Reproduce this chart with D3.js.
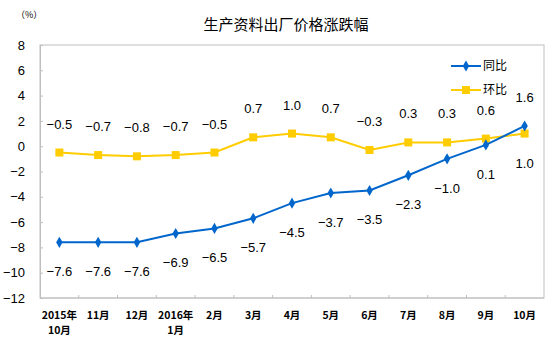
<!DOCTYPE html>
<html>
<head>
<meta charset="utf-8">
<script src="https://cdn.jsdelivr.net/npm/d3@7"></script>
<style>
  body { margin: 0; background: #fff; }
  svg { display: block; }
</style>
</head>
<body>
<div id="chart"></div>
<script>
// categories (month labels, two lines where needed)
const months = [
  ["2015年", "10月"], ["11月"], ["12月"], ["2016年", "1月"], ["2月"], ["3月"],
  ["4月"], ["5月"], ["6月"], ["7月"], ["8月"], ["9月"], ["10月"]
];
// year-on-year
const yoy = [-7.6, -7.6, -7.6, -6.9, -6.5, -5.7, -4.5, -3.7, -3.5, -2.3, -1.0, 0.1, 1.6];
// month-on-month
const mom = [-0.5, -0.7, -0.8, -0.7, -0.5, 0.7, 1.0, 0.7, -0.3, 0.3, 0.3, 0.6, 1.0];
const yTicks = [8, 6, 4, 2, 0, -2, -4, -6, -8, -10, -12];

const width = 554, height = 346;
const margin = {top: 45, right: 10, bottom: 48, left: 40};

const svg = d3.select("#chart").append("svg")
  .attr("width", width)
  .attr("height", height);

const x = d3.scaleBand()
  .domain(d3.range(months.length))
  .range([margin.left, width - margin.right]);

const y = d3.scaleLinear()
  .domain([-12, 8])
  .range([height - margin.bottom, margin.top]);

const axisColor = "#bfbfbf";
const numFont = "'Liberation Sans', Arial, sans-serif";
const cjkFont = "'Noto Sans CJK SC', sans-serif";

// title
svg.append("text")
  .attr("x", 286).attr("y", 30)
  .attr("text-anchor", "middle")
  .style("font-family", cjkFont)
  .style("font-size", "15px")
  .text("生产资料出厂价格涨跌幅");

svg.append("text")
  .attr("x", 16).attr("y", 18)
  .style("font-family", cjkFont)
  .style("font-size", "9px")
  .text("（%）");

// plot box (top and right borders)
svg.append("rect")
  .attr("x", margin.left).attr("y", margin.top)
  .attr("width", width - margin.left - margin.right)
  .attr("height", height - margin.top - margin.bottom)
  .attr("fill", "none")
  .attr("stroke", axisColor);

// y axis
const yAxis = svg.append("g")
  .attr("transform", `translate(${margin.left},0)`)
  .call(d3.axisLeft(y).tickValues(yTicks).tickSize(-3).tickPadding(15).tickFormat(d3.format("d")));
yAxis.select(".domain").attr("stroke", axisColor);
yAxis.selectAll(".tick line").attr("stroke", axisColor);
yAxis.selectAll("text")
  .style("font-family", numFont)
  .style("font-size", "13px")
  .attr("fill", "#000");

// x axis: ticks between categories
const xAxis = svg.append("g")
  .attr("transform", `translate(0,${height - margin.bottom})`);
xAxis.append("line")
  .attr("x1", margin.left).attr("x2", width - margin.right)
  .attr("stroke", axisColor);
xAxis.selectAll(".xt")
  .data(d3.range(1, months.length))
  .join("line")
  .attr("x1", d => x(d)).attr("x2", d => x(d))
  .attr("y1", 0).attr("y2", -3)
  .attr("stroke", axisColor);
// one text element per line so lines never share a box
months.forEach((lines, i) => {
  lines.forEach((t, j) => {
    xAxis.append("text")
      .attr("x", x(i) + x.bandwidth() / 2)
      .attr("y", 21 + j * 15)
      .attr("text-anchor", "middle")
      .style("font-family", cjkFont)
      .style("font-size", "10.5px")
      .style("font-weight", "bold")
      .text(t);
  });
});

const cx = i => x(i) + x.bandwidth() / 2;
const line = d3.line().x((d, i) => cx(i)).y(d => y(d));

const blue = "#0066cc", yellow = "#ffcc00";

// month-on-month line
svg.append("path")
  .datum(mom)
  .attr("d", line)
  .attr("fill", "none")
  .attr("stroke", yellow)
  .attr("stroke-width", 2);
svg.selectAll(".sq")
  .data(mom)
  .join("rect")
  .attr("x", (d, i) => cx(i) - 4)
  .attr("y", d => y(d) - 4)
  .attr("width", 8).attr("height", 8)
  .attr("fill", yellow);

// year-on-year line
svg.append("path")
  .datum(yoy)
  .attr("d", line)
  .attr("fill", "none")
  .attr("stroke", blue)
  .attr("stroke-width", 2);
svg.selectAll(".dm")
  .data(yoy)
  .join("path")
  .attr("d", d3.symbol(d3.symbolDiamond, 36))
  .attr("transform", (d, i) => `translate(${cx(i)},${y(d)})`)
  .attr("fill", blue);

// data labels: higher series above, lower below
function labels(series, other) {
  svg.append("g").selectAll("text")
    .data(series)
    .join("text")
    .attr("x", (d, i) => cx(i))
    .attr("y", (d, i) => d >= other[i] ? y(d) - 24 : y(d) + 34)
    .attr("text-anchor", "middle")
    .style("font-family", numFont)
    .style("font-size", "13px")
    .text(d => d3.format(".1f")(d));
}
labels(mom, yoy);
labels(yoy, mom);

// legend
const legend = [
  {name: "同比", color: blue, y: 66, shape: "diamond"},
  {name: "环比", color: yellow, y: 90, shape: "square"}
];
const lg = svg.append("g").selectAll("g")
  .data(legend)
  .join("g")
  .attr("transform", d => `translate(451,${d.y})`);
lg.append("line")
  .attr("x1", 0).attr("x2", 30)
  .attr("stroke", d => d.color)
  .attr("stroke-width", 2);
lg.append("path")
  .attr("d", d => d.shape === "diamond"
    ? d3.symbol(d3.symbolDiamond, 36)()
    : d3.symbol(d3.symbolSquare, 64)())
  .attr("transform", "translate(15,0)")
  .attr("fill", d => d.color);
lg.append("text")
  .attr("x", 32).attr("y", 4)
  .style("font-family", cjkFont)
  .style("font-size", "12px")
  .text(d => d.name);
</script>
</body>
</html>
